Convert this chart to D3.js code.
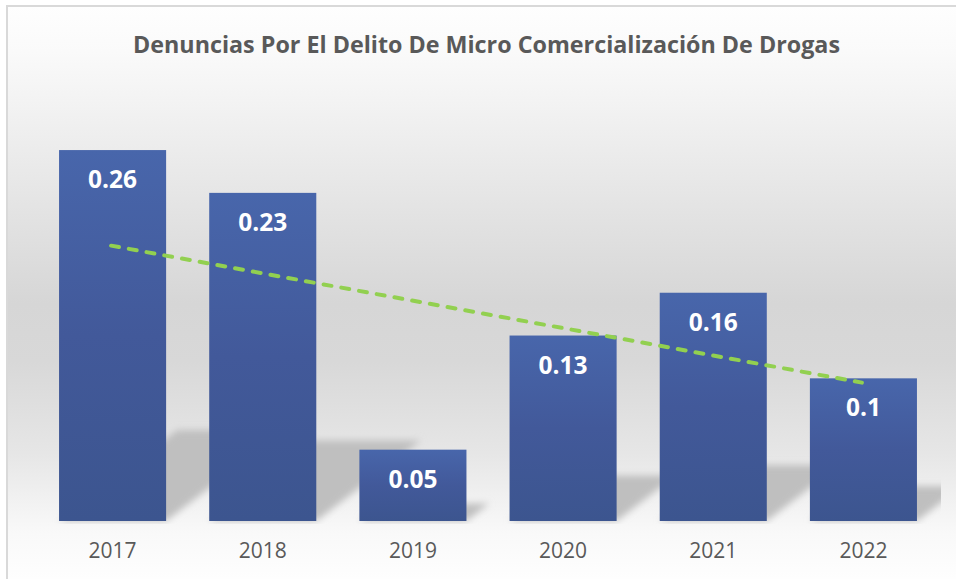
<!DOCTYPE html>
<html>
<head>
<meta charset="utf-8">
<script src="https://cdn.jsdelivr.net/npm/d3@7"></script>
<style>
  html, body { margin: 0; padding: 0; background: #ffffff; }
  svg { display: block; }
</style>
</head>
<body>
<div id="chart"></div>
<script>
// ---- data ----
const title = "Denuncias Por El Delito De Micro Comercialización De Drogas";
const years = ["2017", "2018", "2019", "2020", "2021", "2022"];
const values = [0.26, 0.23, 0.05, 0.13, 0.16, 0.1];
const valueLabels = ["0.26", "0.23", "0.05", "0.13", "0.16", "0.1"];
// linear trend line: value at first and last category
const trendYears = ["2017", "2022"];
const trendValues = [0.193, 0.097];
const yDomain = [0, 0.3];

// ---- layout ----
const W = 956, H = 579;
const plot = { left: 37.5, right: 938.5, top: 93, bottom: 521 };

const svg = d3.select("#chart").append("svg")
  .attr("width", W).attr("height", H)
  .attr("font-family", "'Open Sans', 'DejaVu Sans', sans-serif");

const defs = svg.append("defs");

// chart-area background gradient
const bg = defs.append("linearGradient").attr("id", "bgGrad")
  .attr("gradientUnits", "userSpaceOnUse")
  .attr("x1", 0).attr("y1", 6).attr("x2", 0).attr("y2", 579);
[[0, "#fefefe"], [0.08, "#fafafa"], [0.3, "#e8e8e8"], [0.52, "#d6d6d6"], [0.62, "#d8d8d8"], [0.78, "#e6e6e6"], [0.92, "#f9f9f9"], [1, "#fefefe"]]
  .forEach(([o, c]) => bg.append("stop").attr("offset", o).attr("stop-color", c));

// bar gradient
const barGrad = defs.append("linearGradient").attr("id", "barGrad")
  .attr("x1", 0).attr("y1", 0).attr("x2", 0).attr("y2", 1);
[[0, "#4866ab"], [0.5, "#42599a"], [1, "#3c558f"]]
  .forEach(([o, c]) => barGrad.append("stop").attr("offset", o).attr("stop-color", c));

// shadow blur
defs.append("filter").attr("id", "blur")
  .attr("x", "-30%").attr("y", "-30%").attr("width", "160%").attr("height", "160%")
  .append("feGaussianBlur").attr("stdDeviation", 3.8);

defs.append("clipPath").attr("id", "plotClip")
  .append("rect").attr("x", 30).attr("y", 60).attr("width", 941 - 30).attr("height", plot.bottom - 60 + 3);

// background + border
svg.append("rect")
  .attr("x", 7).attr("y", 6).attr("width", 970).attr("height", 590)
  .attr("fill", "url(#bgGrad)")
  .attr("stroke", "#d9d9d9").attr("stroke-width", 2);

// scales
const x = d3.scaleBand().domain(years).range([plot.left, plot.right])
  .paddingInner(0.287).paddingOuter(0.1435);
const y = d3.scaleLinear().domain(yDomain).range([plot.bottom, plot.top]);

const data = years.map((yr, i) => ({ year: yr, value: values[i], label: valueLabels[i] }));

// perspective shadows
const shadowG = svg.append("g").attr("clip-path", "url(#plotClip)");
shadowG.append("g").attr("filter", "url(#blur)")
  .selectAll("polygon").data(data).join("polygon")
  .attr("fill", "#bfbfbf")
  .attr("points", d => {
    const x0 = x(d.year), x1 = x0 + x.bandwidth();
    const base = y(0);
    const hs = 0.245 * (base - y(d.value));
    const s = 1.3 * hs;
    return [[x0, base], [x1, base], [x1 + s, base - hs], [x0 + s, base - hs]]
      .map(p => p.join(",")).join(" ");
  });

// bars
svg.append("g").selectAll("rect").data(data).join("rect")
  .attr("x", d => x(d.year))
  .attr("y", d => y(d.value))
  .attr("width", x.bandwidth())
  .attr("height", d => y(0) - y(d.value))
  .attr("fill", "url(#barGrad)");

// data labels
svg.append("g").selectAll("text").data(data).join("text")
  .attr("x", d => x(d.year) + x.bandwidth() / 2)
  .attr("y", d => y(d.value) + 38)
  .attr("text-anchor", "middle")
  .attr("font-size", 24.5).attr("font-weight", 700)
  .attr("fill", "#ffffff")
  .text(d => d.label);

// trend line
const trend = trendYears.map((yr, i) => [x(yr) + x.bandwidth() / 2 - 1.5, y(trendValues[i])]);
svg.append("path")
  .attr("d", d3.line()(trend))
  .attr("fill", "none")
  .attr("stroke", "#92d050")
  .attr("stroke-width", 4)
  .attr("stroke-linecap", "round")
  .attr("stroke-dasharray", "8,10");

// x axis (labels only)
const xAxis = svg.append("g")
  .attr("transform", `translate(0,${plot.bottom})`)
  .call(d3.axisBottom(x).tickSize(0).tickPadding(0));
xAxis.select(".domain").remove();
xAxis.selectAll("text")
  .attr("y", 37).attr("dy", null)
  .attr("font-size", 21)
  .attr("font-family", "'Open Sans', 'DejaVu Sans', sans-serif")
  .attr("fill", "#595959");

// title, condensed to the reference width
svg.append("text")
  .attr("x", 486.5).attr("y", 53)
  .attr("text-anchor", "middle")
  .attr("font-weight", 700)
  .attr("font-size", 24)
  .attr("fill", "#595959")
  .attr("textLength", 707)
  .attr("lengthAdjust", "spacingAndGlyphs")
  .text(title);
</script>
</body>
</html>
